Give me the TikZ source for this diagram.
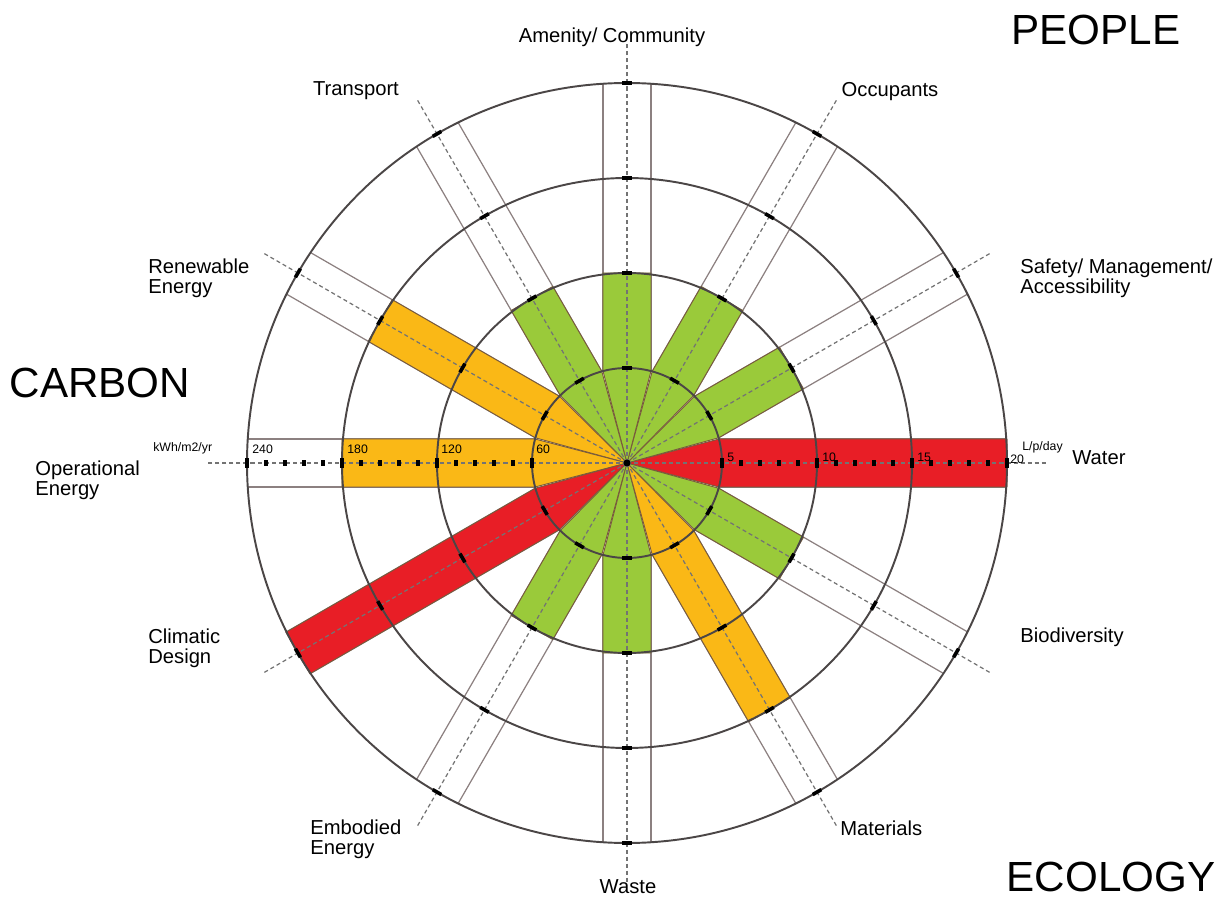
\documentclass[tikz,border=0pt]{standalone}
\usepackage{fontspec}
\setmainfont{Liberation Sans}
\definecolor{barGreen}{RGB}{154,202,58}
\definecolor{barOrange}{RGB}{250,184,22}
\definecolor{barRed}{RGB}{232,30,38}
\definecolor{barEdge}{RGB}{120,90,60}
\definecolor{stripLine}{RGB}{140,128,128}
\definecolor{ringLine}{RGB}{75,70,70}

\begin{document}
\begin{tikzpicture}
  [x=0.02cm,y=0.02cm,
   label/.style={inner sep=0pt,font=\fontsize{11.5}{11.5}\selectfont,align=left},
   head/.style={inner sep=0pt,font=\fontsize{24}{24}\selectfont},
   scalelbl/.style={inner sep=0pt,anchor=west,font=\fontsize{7}{7}\selectfont},
   ring/.style={draw=ringLine,line width=1.1pt},
   strip/.style={draw=stripLine,line width=0.7pt},
   axis/.style={draw=black!55,line width=0.7pt,dash pattern=on 2.3pt off 1.7pt}]
  \useasboundingbox (-627,-436) rectangle (597,463);

  % white strips out to the rim
  \foreach \a in {0,30,...,330}
    \draw[strip,rotate=\a] (92,24) -- (379,24) (92,-24) -- (379,-24);

  % coloured bars
  \foreach \a/\len/\col in {0/380/barRed,30/190/barGreen,60/190/barGreen,
      90/190/barGreen,120/190/barGreen,150/285/barOrange,180/285/barOrange,
      210/380/barRed,240/190/barGreen,270/190/barGreen,300/285/barOrange,
      330/190/barGreen}
    \filldraw[fill=\col,draw=barEdge,line width=0.5pt,rotate=\a]
      (0,0) -- (92,-24) -- (\len,-24) -- (\len,24) -- (92,24) -- cycle;

  % rings
  \foreach \r in {95,190,285,380}
    \draw[ring] (0,0) circle (\r);

  % axes
  \foreach \a in {0,30,...,330}
    \draw[axis,rotate=\a] (0,0) -- (420,0);

  % ticks
  \foreach \a in {0,30,...,330}
    \foreach \r in {95,190,285,380}
      \fill[rotate=\a] (\r-1.8,-5) rectangle (\r+1.8,5);
  \foreach \a in {0,180}
    \foreach \r in {114,133,152,171,209,228,247,266,304,323,342,361}
      \fill[rotate=\a] (\r-1.7,-2.6) rectangle (\r+1.7,2.6);
  \fill (0,0) circle (3.5);

  % scales
  \node[scalelbl] (kwh) at (-474,15) {kWh/m2/yr};
  \node[scalelbl] (s240) at (-375,14) {240};
  \node[scalelbl] (s180) at (-280,14) {180};
  \node[scalelbl] (s120) at (-186,14) {120};
  \node[scalelbl] (s60) at (-91,14) {60};
  \node[scalelbl] (w5) at (100,6) {5};
  \node[scalelbl] (w10) at (195,6) {10};
  \node[scalelbl] (w15) at (290,6) {15};
  \node[scalelbl] (w20) at (383,4) {20};
  \node[scalelbl] (lpd) at (395,16) {L/p/day};

  % spoke labels
  \node[label] (amenity) at (-15,426) {Amenity/ Community};
  \node[label] (transport) at (-271,372) {Transport};
  \node[label] (occupants) at (263,371) {Occupants};
  \node[label,anchor=west] (safety) at (393,185) {Safety/ Management/\\Accessibility};
  \node[label,anchor=west] (renewable) at (-479,185) {Renewable\\Energy};
  \node[label,anchor=west] (operational) at (-592,-17) {Operational\\Energy};
  \node[label,anchor=west] (water) at (445,5) {Water};
  \node[label,anchor=west] (climatic) at (-479,-185) {Climatic\\Design};
  \node[label,anchor=west] (biodiversity) at (393,-174) {Biodiversity};
  \node[label,anchor=west] (embodied) at (-317,-376) {Embodied\\Energy};
  \node[label,anchor=west] (materials) at (213,-365) {Materials};
  \node[label] (waste) at (1,-424) {Waste};

  % groups
  \node[head] (people) at (469,433) {PEOPLE};
  \node[head] (carbon) at (-527,80) {CARBON};
  \node[head] (ecology) at (484,-414) {ECOLOGY};
\end{tikzpicture}
\end{document}
